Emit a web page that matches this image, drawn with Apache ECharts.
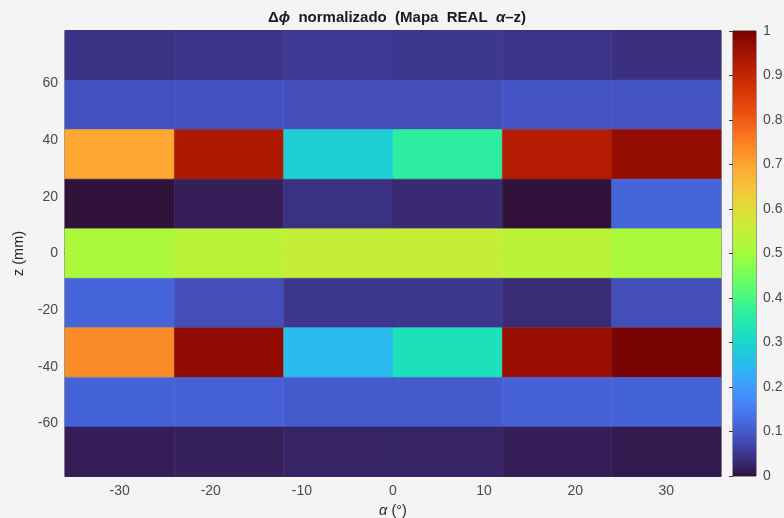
<!DOCTYPE html>
<html>
<head>
<meta charset="utf-8">
<script src="https://cdn.jsdelivr.net/npm/echarts@6/dist/echarts.min.js"></script>
<style>
  html, body { margin: 0; padding: 0; background: #f4f4f4; }
  #chart { width: 784px; height: 518px; }
</style>
</head>
<body>
<div id="chart"></div>
<script>
// Column centres (alpha, degrees) and row centres (z, mm), top row first
const alphaCenters = [-30, -18, -6, 6, 18, 30];
const zCenters = [70, 52.5, 35, 17.5, 0, -17.5, -35, -52.5, -70];

// Normalised phase difference per row (same order as zCenters), per column
const dphiRows = [
  [0.043, 0.046, 0.052, 0.050, 0.046, 0.040],
  [0.086, 0.088, 0.082, 0.082, 0.092, 0.092],
  [0.695, 0.935, 0.287, 0.365, 0.925, 0.967],
  [0.000, 0.016, 0.041, 0.031, 0.000, 0.115],
  [0.514, 0.533, 0.551, 0.551, 0.537, 0.514],
  [0.115, 0.082, 0.050, 0.050, 0.033, 0.082],
  [0.733, 0.975, 0.250, 0.325, 0.965, 1.000],
  [0.114, 0.110, 0.100, 0.100, 0.110, 0.114],
  [0.016, 0.018, 0.024, 0.024, 0.016, 0.012]
];

// Tick labels
const alphaTicks = [-30, -20, -10, 0, 10, 20, 30];
const zTicks = [-60, -40, -20, 0, 20, 40, 60];

// Cell size and axis extents
const cellHalfW = 6;
const cellHalfH = 8.75;
const alphaMin = -36, alphaMax = 36;
const zMin = -78.75, zMax = 78.75;

// Turbo colormap knots: [position 0..255, r, g, b]
const turboKnots = [
  [0, 48, 18, 59], [8, 57, 42, 115], [16, 64, 64, 162], [24, 68, 86, 199],
  [32, 70, 107, 227], [40, 70, 128, 246], [48, 66, 148, 255], [56, 55, 168, 250],
  [64, 40, 188, 235], [80, 24, 221, 194], [96, 50, 242, 152], [112, 109, 254, 98],
  [128, 164, 252, 60], [144, 205, 236, 52], [160, 238, 207, 58], [176, 253, 172, 52],
  [192, 251, 126, 33], [208, 235, 80, 14], [224, 208, 47, 5], [240, 169, 22, 1],
  [248, 146, 11, 1], [255, 122, 4, 3]
];
function turbo(t) {
  const p = Math.max(0, Math.min(1, t)) * 255;
  let k = 0;
  while (k < turboKnots.length - 2 && turboKnots[k + 1][0] < p) k++;
  const a = turboKnots[k], b = turboKnots[k + 1];
  const f = (p - a[0]) / (b[0] - a[0]);
  const c = i => Math.round(a[i] + (b[i] - a[i]) * f);
  return 'rgb(' + c(1) + ',' + c(2) + ',' + c(3) + ')';
}
const N_STOPS = 256;
const turboColors = [];
for (let i = 0; i < N_STOPS; i++) turboColors.push(turbo(i / (N_STOPS - 1)));

const cells = [];
zCenters.forEach((z, ri) => {
  alphaCenters.forEach((a, ci) => {
    cells.push([a, z, dphiRows[ri][ci]]);
  });
});

const chart = echarts.init(document.getElementById('chart'), null, { renderer: 'canvas' });

const FONT = '"Liberation Sans", Arial, Helvetica, sans-serif';
const AXIS_COL = '#3a3a3a';
const LABEL_COL = '#4a4a4a';

function cellRender(params, api) {
  const a = api.value(0), z = api.value(1);
  const p0 = api.coord([a - cellHalfW, z + cellHalfH]);
  const p1 = api.coord([a + cellHalfW, z - cellHalfH]);
  return {
    type: 'rect',
    shape: { x: p0[0], y: p0[1], width: p1[0] - p0[0], height: p1[1] - p0[1] },
    style: { fill: api.visual('color'), stroke: api.visual('color'), lineWidth: 0.5 }
  };
}

function colorbarRender(params, api) {
  const p0 = api.coord([0, 1]);
  const p1 = api.coord([1, 0]);
  const stops = turboColors.map((c, i) => ({ offset: i / (N_STOPS - 1), color: c }));
  return {
    type: 'rect',
    shape: { x: p0[0], y: p0[1], width: p1[0] - p0[0], height: p1[1] - p0[1] },
    style: { fill: new echarts.graphic.LinearGradient(0, 1, 0, 0, stops) }
  };
}

const mainTick = { show: true, inside: true, length: 5, lineStyle: { color: AXIS_COL, width: 1 } };

chart.setOption({
  backgroundColor: '#f4f4f4',
  animation: false,
  title: {
    text: '{b|Δ}{bi|ϕ}{b|  normalizado  (Mapa  REAL  }{bi|α}{b|–z)}',
    left: 392, textAlign: 'center', top: 5,
    textStyle: {
      rich: {
        b: { fontFamily: FONT, fontSize: 15, fontWeight: 'bold', color: '#1a1a1a' },
        bi: { fontFamily: FONT, fontSize: 15, fontWeight: 'bold', fontStyle: 'italic', color: '#1a1a1a' }
      }
    }
  },
  grid: [
    { left: 65, right: 63, top: 30.5, bottom: 41.5, outerBoundsMode: 'none', containLabel: false,
      show: true, borderColor: AXIS_COL, borderWidth: 1, backgroundColor: 'transparent' },
    { left: 733, width: 23, top: 31, bottom: 42, outerBoundsMode: 'none', containLabel: false,
      show: true, borderColor: AXIS_COL, borderWidth: 1, backgroundColor: 'transparent' }
  ],
  visualMap: {
    show: false, type: 'continuous', min: 0, max: 1, dimension: 2, seriesIndex: 0,
    inRange: { color: turboColors }
  },
  xAxis: [
    {
      type: 'value', gridIndex: 0, min: alphaMin, max: alphaMax, position: 'bottom',
      name: '{i|α}{n| (°)}', nameLocation: 'middle', nameGap: 24,
      nameTextStyle: { rich: {
        i: { fontFamily: FONT, fontSize: 14.5, fontStyle: 'italic', color: '#262626' },
        n: { fontFamily: FONT, fontSize: 14.5, color: '#262626' } } },
      axisLine: { show: true, lineStyle: { color: AXIS_COL } },
      axisTick: Object.assign({ customValues: alphaTicks }, mainTick),
      axisLabel: { customValues: alphaTicks, margin: 8, color: LABEL_COL, fontFamily: FONT, fontSize: 14 },
      splitLine: { show: false }
    },
    {
      type: 'value', gridIndex: 0, min: alphaMin, max: alphaMax, position: 'top',
      axisLine: { show: true, lineStyle: { color: AXIS_COL } },
      axisTick: Object.assign({ customValues: alphaTicks }, mainTick),
      axisLabel: { show: false },
      splitLine: { show: false }
    },
    {
      type: 'value', gridIndex: 1, min: 0, max: 1, show: false
    }
  ],
  yAxis: [
    {
      type: 'value', gridIndex: 0, min: zMin, max: zMax, position: 'left',
      name: 'z (mm)', nameLocation: 'middle', nameGap: 33, nameRotate: 90,
      nameTextStyle: { fontFamily: FONT, fontSize: 14.5, color: '#262626' },
      axisLine: { show: true, lineStyle: { color: AXIS_COL } },
      axisTick: Object.assign({ customValues: zTicks }, mainTick),
      axisLabel: { customValues: zTicks, margin: 7, color: LABEL_COL, fontFamily: FONT, fontSize: 14 },
      splitLine: { show: false }
    },
    {
      type: 'value', gridIndex: 0, min: zMin, max: zMax, position: 'right',
      axisLine: { show: true, lineStyle: { color: AXIS_COL } },
      axisTick: Object.assign({ customValues: zTicks }, mainTick),
      axisLabel: { show: false },
      splitLine: { show: false }
    },
    {
      type: 'value', gridIndex: 1, min: 0, max: 1, interval: 0.1, position: 'right',
      axisLine: { show: true, lineStyle: { color: AXIS_COL } },
      axisTick: { show: true, inside: true, length: 4, lineStyle: { color: AXIS_COL } },
      axisLabel: { margin: 7, color: LABEL_COL, fontFamily: FONT, fontSize: 14,
        formatter: v => String(Math.round(v * 10) / 10) },
      splitLine: { show: false }
    }
  ],
  series: [
    {
      type: 'custom', xAxisIndex: 0, yAxisIndex: 0,
      renderItem: cellRender,
      encode: { x: 0, y: 1 },
      data: cells,
      z: 1
    },
    {
      type: 'custom', xAxisIndex: 2, yAxisIndex: 2,
      renderItem: colorbarRender,
      data: [[0, 0]],
      silent: true,
      z: 1
    }
  ]
});
</script>
</body>
</html>
